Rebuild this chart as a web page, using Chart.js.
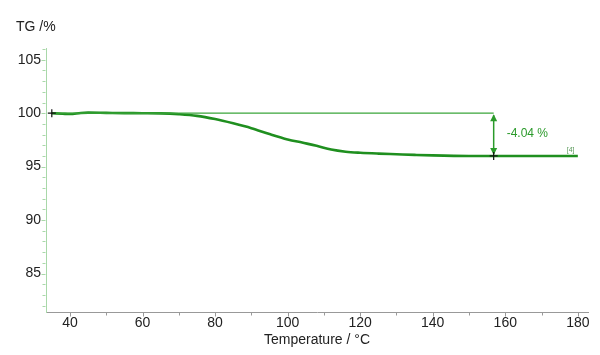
<!DOCTYPE html>
<html>
<head>
<meta charset="utf-8">
<script src="https://cdn.jsdelivr.net/npm/chart.js@4.4.1/dist/chart.umd.min.js"></script>
<style>
html,body{margin:0;padding:0;background:#fff;}
#wrap{width:600px;height:355px;position:relative;}
</style>
</head>
<body>
<div id="wrap"><canvas id="c" width="600" height="355"></canvas></div>
<script>
// ---- data ----
const temperature = [35, 38, 40, 43, 45, 50, 55, 60, 65, 70, 75, 80, 85, 90, 95, 100, 104, 108, 112, 116, 120, 125, 130, 135, 140, 150, 160, 170, 180];
const tgPercent   = [100.0, 99.95, 99.92, 100.02, 100.05, 100.03, 100.01, 100.0, 99.98, 99.9, 99.75, 99.45, 99.05, 98.6, 98.05, 97.55, 97.25, 96.95, 96.6, 96.4, 96.3, 96.22, 96.16, 96.1, 96.05, 96.0, 96.0, 96.0, 96.0];
const refLineT = [35, 156.8];
const refLineV = [100, 100];
const stepT = 156.8;
const stepFrom = 100.0;
const stepTo = 96.0;
const stepLabel = "-4.04 %";
const curveTag = "[4]";
const xTickLabels = [40, 60, 80, 100, 120, 140, 160, 180];
const yTickLabels = [85, 90, 95, 100, 105];
const xTitle = "Temperature / °C";
const yTitle = "TG /%";

const curvePts = temperature.map((t, i) => ({x: t, y: tgPercent[i]}));
const refPts = refLineT.map((t, i) => ({x: t, y: refLineV[i]}));

const FONT = "'Liberation Sans', Arial, sans-serif";

const annot = {
  id: 'annot',
  afterDatasetsDraw(chart) {
    const ctx = chart.ctx, xs = chart.scales.x, ys = chart.scales.y;
    ctx.save();
    // minor ticks on y axis
    ctx.strokeStyle = '#a9d8a9';
    ctx.lineWidth = 1;
    const ax = Math.round(chart.chartArea.left) - 0.5;
    for (let v = Math.ceil(ys.min); v <= ys.max; v++) {
      const py = Math.round(ys.getPixelForValue(v)) + 0.5;
      const major = yTickLabels.includes(v);
      ctx.beginPath();
      ctx.moveTo(ax - (major ? 4 : 3), py);
      ctx.lineTo(ax, py);
      ctx.stroke();
    }
    // minor ticks on x axis
    ctx.strokeStyle = '#999';
    const by = Math.round(chart.chartArea.bottom) + 0.5;
    for (let v = 40; v <= xs.max; v += 10) {
      const px = Math.round(xs.getPixelForValue(v)) + 0.5;
      const major = xTickLabels.includes(v);
      ctx.beginPath();
      ctx.moveTo(px, by);
      ctx.lineTo(px, by + (major ? 4 : 3));
      ctx.stroke();
    }
    // step arrow
    const axp = xs.getPixelForValue(stepT);
    const y1 = ys.getPixelForValue(stepFrom), y2 = ys.getPixelForValue(stepTo);
    ctx.strokeStyle = '#2a9a2a';
    ctx.fillStyle = '#2a9a2a';
    ctx.lineWidth = 1.5;
    ctx.beginPath();
    ctx.moveTo(axp, y1 + 2);
    ctx.lineTo(axp, y2 - 2);
    ctx.stroke();
    const ah = 7, aw = 3.5;
    ctx.beginPath();
    ctx.moveTo(axp, y1 + 1); ctx.lineTo(axp - aw, y1 + 1 + ah); ctx.lineTo(axp + aw, y1 + 1 + ah); ctx.closePath(); ctx.fill();
    ctx.beginPath();
    ctx.moveTo(axp, y2 - 1); ctx.lineTo(axp - aw, y2 - 1 - ah); ctx.lineTo(axp + aw, y2 - 1 - ah); ctx.closePath(); ctx.fill();
    // label
    ctx.font = "12px " + FONT;
    ctx.textAlign = 'left';
    ctx.textBaseline = 'middle';
    ctx.fillText(stepLabel, axp + 13, (y1 + y2) / 2 - 0.5);
    // curve tag
    ctx.font = "7px " + FONT;
    ctx.fillStyle = '#5a9a5a';
    ctx.textAlign = 'center';
    ctx.textBaseline = 'bottom';
    ctx.fillText(curveTag, xs.getPixelForValue(178), ys.getPixelForValue(96.0) - 2);
    // crosses
    ctx.strokeStyle = '#111';
    ctx.lineWidth = 1.2;
    const cross = (t, v) => {
      const px = xs.getPixelForValue(t), py = ys.getPixelForValue(v);
      ctx.beginPath();
      ctx.moveTo(px - 4, py); ctx.lineTo(px + 4, py);
      ctx.moveTo(px, py - 4); ctx.lineTo(px, py + 4);
      ctx.stroke();
    };
    cross(temperature[0], tgPercent[0]);
    cross(stepT, stepTo);
    // y title
    ctx.font = "14px " + FONT;
    ctx.fillStyle = '#222';
    ctx.textAlign = 'left';
    ctx.textBaseline = 'middle';
    ctx.fillText(yTitle, 16, 27);
    ctx.restore();
  }
};

new Chart(document.getElementById('c'), {
  type: 'line',
  data: {
    datasets: [
      {
        data: refPts,
        borderColor: '#3aa53a',
        borderWidth: 1.3,
        pointRadius: 0,
        tension: 0
      },
      {
        data: curvePts,
        borderColor: '#1f8f1f',
        borderWidth: 2.6,
        pointRadius: 0,
        cubicInterpolationMode: 'monotone'
      }
    ]
  },
  options: {
    responsive: false,
    animation: false,
    devicePixelRatio: 1,
    layout: { padding: { top: 48, right: 12, left: 0, bottom: 0 } },
    plugins: { legend: { display: false }, tooltip: { enabled: false } },
    scales: {
      x: {
        type: 'linear',
        min: 33.4,
        max: 182.8,
        afterBuildTicks(s) { s.ticks = xTickLabels.map(v => ({value: v})); },
        afterFit(s) { s.height = 43; },
        grid: { drawOnChartArea: false, drawTicks: false, color: '#999' },
        border: { color: '#999', width: 1 },
        ticks: { color: '#222', font: { family: FONT, size: 14 }, padding: 3, maxRotation: 0 },
        title: { display: true, text: xTitle, color: '#222', font: { family: FONT, size: 14 }, padding: { top: 0, bottom: 6 } }
      },
      y: {
        type: 'linear',
        min: 81.4,
        max: 106.1,
        afterBuildTicks(s) { s.ticks = yTickLabels.map(v => ({value: v})); },
        afterFit(s) { s.width = 46; },
        grid: { drawOnChartArea: false, drawTicks: false, color: '#a9d8a9' },
        border: { color: '#a9d8a9', width: 1 },
        ticks: { color: '#222', font: { family: FONT, size: 14 }, padding: 5 }
      }
    }
  },
  plugins: [annot]
});
</script>
</body>
</html>
